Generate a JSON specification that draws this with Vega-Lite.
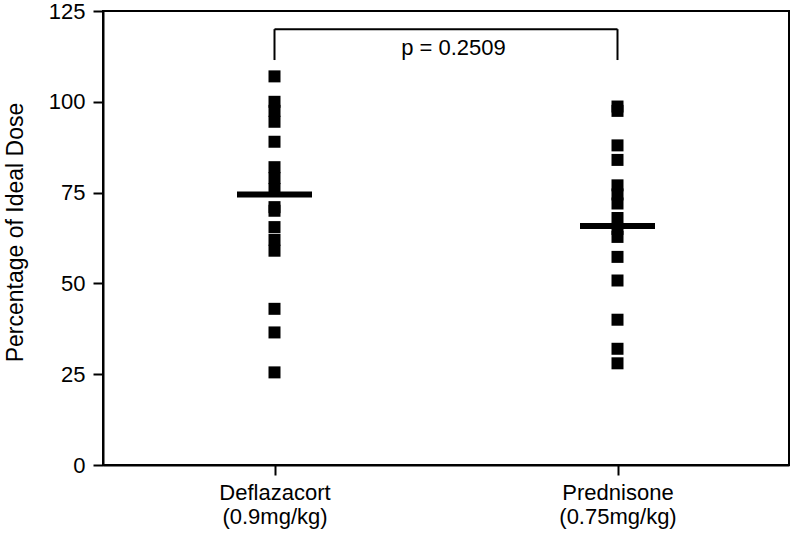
{
  "$schema": "https://vega.github.io/schema/vega-lite/v6.json",
  "width": 686,
  "height": 454,
  "autosize": {"type": "none"},
  "padding": {"left": 103, "top": 11, "right": 3, "bottom": 68},
  "background": "white",
  "config": {
    "font": "Liberation Sans",
    "view": {"stroke": "black", "strokeWidth": 2},
    "axis": {
      "domainColor": "black", "domainWidth": 2,
      "tickColor": "black", "tickWidth": 2, "tickSize": 10,
      "labelColor": "black", "titleColor": "black",
      "labelFontSize": 22, "titleFontSize": 23, "titleFontWeight": "normal",
      "grid": false
    }
  },
  "datasets": {
    "points": [
      {"group": "Deflazacort", "value": 107},
      {"group": "Deflazacort", "value": 100},
      {"group": "Deflazacort", "value": 97.5},
      {"group": "Deflazacort", "value": 94.5},
      {"group": "Deflazacort", "value": 89},
      {"group": "Deflazacort", "value": 82},
      {"group": "Deflazacort", "value": 79},
      {"group": "Deflazacort", "value": 76},
      {"group": "Deflazacort", "value": 71},
      {"group": "Deflazacort", "value": 70},
      {"group": "Deflazacort", "value": 65.5},
      {"group": "Deflazacort", "value": 62},
      {"group": "Deflazacort", "value": 59},
      {"group": "Deflazacort", "value": 43},
      {"group": "Deflazacort", "value": 36.5},
      {"group": "Deflazacort", "value": 25.5},
      {"group": "Prednisone", "value": 98.7},
      {"group": "Prednisone", "value": 97.5},
      {"group": "Prednisone", "value": 88},
      {"group": "Prednisone", "value": 84},
      {"group": "Prednisone", "value": 77},
      {"group": "Prednisone", "value": 74.5},
      {"group": "Prednisone", "value": 72},
      {"group": "Prednisone", "value": 68},
      {"group": "Prednisone", "value": 65},
      {"group": "Prednisone", "value": 62.8},
      {"group": "Prednisone", "value": 57.3},
      {"group": "Prednisone", "value": 50.8},
      {"group": "Prednisone", "value": 40},
      {"group": "Prednisone", "value": 32},
      {"group": "Prednisone", "value": 28}
    ],
    "means": [
      {"group": "Deflazacort", "value": 74.5},
      {"group": "Prednisone", "value": 65.8}
    ],
    "legs": [
      {"group": "Deflazacort", "low": 111.5, "high": 120},
      {"group": "Prednisone", "low": 111.5, "high": 120}
    ],
    "bar": [
      {"from": "Deflazacort", "to": "Prednisone", "value": 120}
    ],
    "label": [
      {"group": "Deflazacort", "value": 113, "text": "p = 0.2509"}
    ]
  },
  "layer": [
    {
      "data": {"name": "points"},
      "mark": {"type": "point", "shape": "square", "filled": true, "color": "black", "opacity": 1, "size": 144, "strokeWidth": 0},
      "encoding": {
        "x": {
          "field": "group", "type": "nominal",
          "scale": {"type": "point", "domain": ["Deflazacort", "Prednisone"], "padding": 0.5},
          "axis": {
            "title": null, "labelAngle": 0, "labelPadding": 7, "labelLineHeight": 24, "labelBaseline": "top",
            "labelExpr": "datum.label == 'Deflazacort' ? ['Deflazacort', '(0.9mg/kg)'] : ['Prednisone', '(0.75mg/kg)']"
          }
        },
        "y": {
          "field": "value", "type": "quantitative",
          "scale": {"domain": [0, 125], "nice": false, "zero": true},
          "axis": {"title": "Percentage of Ideal Dose", "values": [0, 25, 50, 75, 100, 125], "labelPadding": 8, "titlePadding": 21, "titleY": 221}
        }
      }
    },
    {
      "data": {"name": "means"},
      "mark": {"type": "tick", "orient": "horizontal", "color": "black", "opacity": 1, "size": 75, "thickness": 6},
      "encoding": {
        "x": {"field": "group", "type": "nominal"},
        "y": {"field": "value", "type": "quantitative"}
      }
    },
    {
      "data": {"name": "legs"},
      "mark": {"type": "rule", "color": "black", "strokeWidth": 2},
      "encoding": {
        "x": {"field": "group", "type": "nominal"},
        "y": {"field": "low", "type": "quantitative"},
        "y2": {"field": "high"}
      }
    },
    {
      "data": {"name": "bar"},
      "mark": {"type": "rule", "color": "black", "strokeWidth": 2},
      "encoding": {
        "x": {"field": "from", "type": "nominal"},
        "x2": {"field": "to"},
        "y": {"field": "value", "type": "quantitative"}
      }
    },
    {
      "data": {"name": "label"},
      "mark": {"type": "text", "color": "black", "fontSize": 22, "align": "center", "baseline": "alphabetic", "dx": 179},
      "encoding": {
        "x": {"field": "group", "type": "nominal"},
        "y": {"field": "value", "type": "quantitative"},
        "text": {"field": "text"}
      }
    }
  ]
}
